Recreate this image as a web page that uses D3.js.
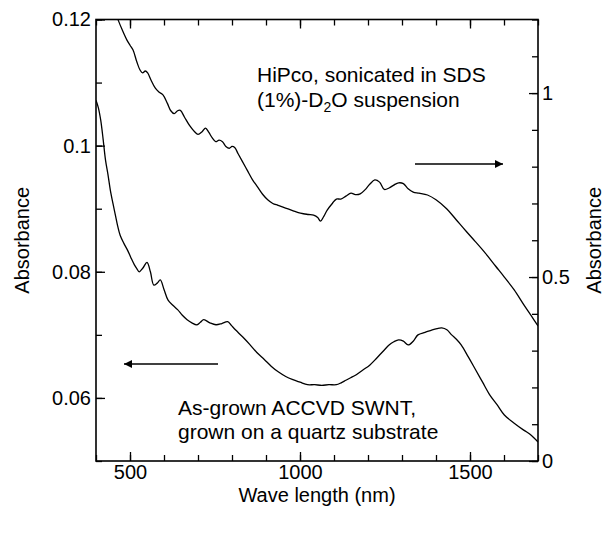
<!DOCTYPE html>
<html><head><meta charset="utf-8">
<script src="https://cdn.jsdelivr.net/npm/d3@7"></script>
<style>body{margin:0;background:#fff}svg{display:block}text{font-family:"Liberation Sans",Arial,sans-serif;fill:#000}</style>
</head><body><svg id="c" width="604" height="538"></svg>
<script>
// Upper curve: HiPco (right axis)
const hipcoWave = [440,455,465,478,491,500,509,520,530,537,545,552,562,574,585,597,610,620,630,640,648,660,675,690,700,712,722,732,742,752,762,772,782,792,800,808,818,830,845,860,875,890,905,920,935,950,965,980,995,1010,1025,1040,1052,1060,1070,1080,1095,1107,1120,1135,1150,1163,1177,1191,1205,1220,1234,1248,1262,1276,1290,1304,1318,1333,1350,1375,1400,1432,1460,1488,1515,1545,1575,1601,1630,1658,1680,1700];
const hipcoAbs  = [1.27,1.225,1.199,1.17,1.144,1.13,1.117,1.085,1.062,1.055,1.06,1.055,1.035,1.014,1.003,0.995,0.972,0.952,0.944,0.952,0.953,0.935,0.912,0.895,0.888,0.895,0.905,0.893,0.878,0.868,0.872,0.868,0.855,0.85,0.855,0.852,0.835,0.815,0.79,0.765,0.745,0.725,0.71,0.7,0.695,0.69,0.685,0.68,0.675,0.672,0.670,0.668,0.662,0.652,0.665,0.682,0.700,0.712,0.712,0.720,0.728,0.724,0.726,0.737,0.752,0.764,0.758,0.738,0.742,0.750,0.756,0.754,0.740,0.731,0.728,0.723,0.710,0.685,0.655,0.625,0.597,0.565,0.530,0.500,0.465,0.425,0.395,0.367];
// Lower curve: ACCVD (left axis)
const accvdWave = [400,407,414,421,428,435,442,450,457,464,471,482,493,503,513,520,527,538,550,560,570,580,589,600,612,626,640,654,668,682,697,707,717,735,753,770,787,798,810,831,852,873,895,916,937,958,979,1000,1022,1043,1064,1085,1107,1121,1135,1149,1163,1184,1205,1220,1234,1248,1262,1276,1290,1304,1318,1333,1347,1368,1389,1403,1417,1432,1446,1460,1474,1495,1516,1537,1558,1580,1601,1630,1658,1680,1700];
const accvdAbs  = [0.1072,0.1060,0.1040,0.1010,0.0977,0.0955,0.0930,0.0908,0.0890,0.0872,0.0858,0.0845,0.0834,0.0822,0.0811,0.0805,0.0800,0.0806,0.0815,0.0800,0.0779,0.0782,0.0787,0.0772,0.0755,0.0747,0.0740,0.0731,0.0724,0.0719,0.0716,0.0720,0.0724,0.0719,0.0716,0.0718,0.0721,0.0715,0.0708,0.0697,0.0685,0.0672,0.0661,0.0650,0.0641,0.0634,0.0629,0.0625,0.0621,0.0621,0.0620,0.0621,0.0621,0.0624,0.0628,0.0632,0.0636,0.0644,0.0652,0.0660,0.0668,0.0676,0.0684,0.0689,0.0692,0.0690,0.0684,0.0690,0.0700,0.0704,0.0708,0.0710,0.0711,0.0708,0.0700,0.0693,0.0684,0.0665,0.0645,0.0625,0.0605,0.0589,0.0573,0.0560,0.0549,0.0541,0.0530];

const xTicksMajor = [500,1000,1500];
const leftTickLabels = ["0.06","0.08","0.1","0.12"];
const leftTickValues = [0.06,0.08,0.1,0.12];
const rightTickLabels = ["0","0.5","1"];
const rightTickValues = [0,0.5,1];
const texts = {
  upper1: "HiPco, sonicated in SDS",
  lower1: "As-grown ACCVD SWNT,",
  lower2: "grown on a quartz substrate",
  xTitle: "Wave length (nm)",
  yTitle: "Absorbance"
};

(function(){
const svg = d3.select("#c");
const L=96, R=538, T=19.5, B=461;
const x = d3.scaleLinear().domain([400,1700]).range([L,R]);
const yL = d3.scaleLinear().domain([0.05,0.12]).range([B,T]);
const yR = d3.scaleLinear().domain([0,1.2]).range([B,T]);

const defs = svg.append("defs");
defs.append("clipPath").attr("id","clip").append("rect")
  .attr("x",L).attr("y",T).attr("width",R-L).attr("height",B-T);

const fs = 20, fa = 21;
const minorX = d3.range(400,1701,100);
svg.append("g").attr("transform",`translate(0,${B})`)
  .call(d3.axisBottom(x).tickValues(minorX).tickSize(-6).tickFormat(""));
svg.append("g").attr("transform",`translate(0,${B})`)
  .call(d3.axisBottom(x).tickValues(xTicksMajor).tickSize(-9).tickPadding(4).tickFormat(d3.format("d")));
svg.append("g").attr("transform",`translate(0,${T})`)
  .call(d3.axisTop(x).tickValues(minorX).tickSize(-6).tickFormat(""));
svg.append("g").attr("transform",`translate(0,${T})`)
  .call(d3.axisTop(x).tickValues(xTicksMajor).tickSize(-9).tickFormat(""));
const minorL = d3.range(5,13).map(d=>d/100);
svg.append("g").attr("transform",`translate(${L},0)`)
  .call(d3.axisLeft(yL).tickValues(minorL).tickSize(-6).tickFormat(""));
svg.append("g").attr("transform",`translate(${L},0)`)
  .call(d3.axisLeft(yL).tickValues(leftTickValues).tickSize(-9).tickPadding(5)
  .tickFormat((d,i)=>leftTickLabels[i]));
const minorR = d3.range(0,13).map(d=>d/10);
svg.append("g").attr("transform",`translate(${R},0)`)
  .call(d3.axisRight(yR).tickValues(minorR).tickSize(-6).tickFormat(""));
svg.append("g").attr("transform",`translate(${R},0)`)
  .call(d3.axisRight(yR).tickValues(rightTickValues).tickSize(-9).tickPadding(4)
  .tickFormat((d,i)=>rightTickLabels[i]));

svg.selectAll(".domain").remove();
svg.selectAll(".tick line").attr("stroke","#000").attr("stroke-width",1.3);
svg.selectAll(".tick text").attr("font-size",fs).attr("font-family","Liberation Sans, Arial, sans-serif").attr("fill","#000");

svg.append("rect").attr("x",L).attr("y",T).attr("width",R-L).attr("height",B-T)
  .attr("fill","none").attr("stroke","#000").attr("stroke-width",1.6);

const lineU = d3.line().x((d,i)=>x(hipcoWave[i])).y((d,i)=>yR(hipcoAbs[i])).curve(d3.curveCatmullRom);
const lineL = d3.line().x((d,i)=>x(accvdWave[i])).y((d,i)=>yL(accvdAbs[i])).curve(d3.curveCatmullRom);
const gc = svg.append("g").attr("clip-path","url(#clip)");
gc.append("path").attr("d",lineU(hipcoWave)).attr("fill","none").attr("stroke","#000").attr("stroke-width",1.3);
gc.append("path").attr("d",lineL(accvdWave)).attr("fill","none").attr("stroke","#000").attr("stroke-width",1.3);

defs.append("marker").attr("id","ah").attr("viewBox","0 0 10 10").attr("refX",10).attr("refY",5)
  .attr("markerWidth",12).attr("markerHeight",8).attr("markerUnits","userSpaceOnUse").attr("orient","auto")
  .append("path").attr("d","M0,0 L10,5 L0,10 Z").attr("fill","#000");
svg.append("line").attr("x1",415).attr("x2",503).attr("y1",164).attr("y2",164)
  .attr("stroke","#000").attr("stroke-width",1.3).attr("marker-end","url(#ah)");
svg.append("line").attr("x1",218).attr("x2",124).attr("y1",364).attr("y2",364)
  .attr("stroke","#000").attr("stroke-width",1.3).attr("marker-end","url(#ah)");

svg.append("text").attr("x",257).attr("y",82).attr("font-size",fa).text(texts.upper1);
const t2 = svg.append("text").attr("x",257).attr("y",107).attr("font-size",fa);
t2.append("tspan").text("(1%)-D");
t2.append("tspan").attr("font-size",14).attr("dy",5).text("2");
t2.append("tspan").attr("dy",-5).text("O suspension");
svg.append("text").attr("x",178).attr("y",415).attr("font-size",fa).text(texts.lower1);
svg.append("text").attr("x",178).attr("y",439).attr("font-size",fa).text(texts.lower2);

svg.append("text").attr("x",(L+R)/2).attr("y",502).attr("text-anchor","middle").attr("font-size",fs).text(texts.xTitle);
svg.append("text").attr("transform",`translate(29,${(T+B)/2}) rotate(-90)`).attr("text-anchor","middle").attr("font-size",fs).text(texts.yTitle);
svg.append("text").attr("transform",`translate(601,${(T+B)/2}) rotate(-90)`).attr("text-anchor","middle").attr("font-size",fs).text(texts.yTitle);
})();
</script></body></html>
